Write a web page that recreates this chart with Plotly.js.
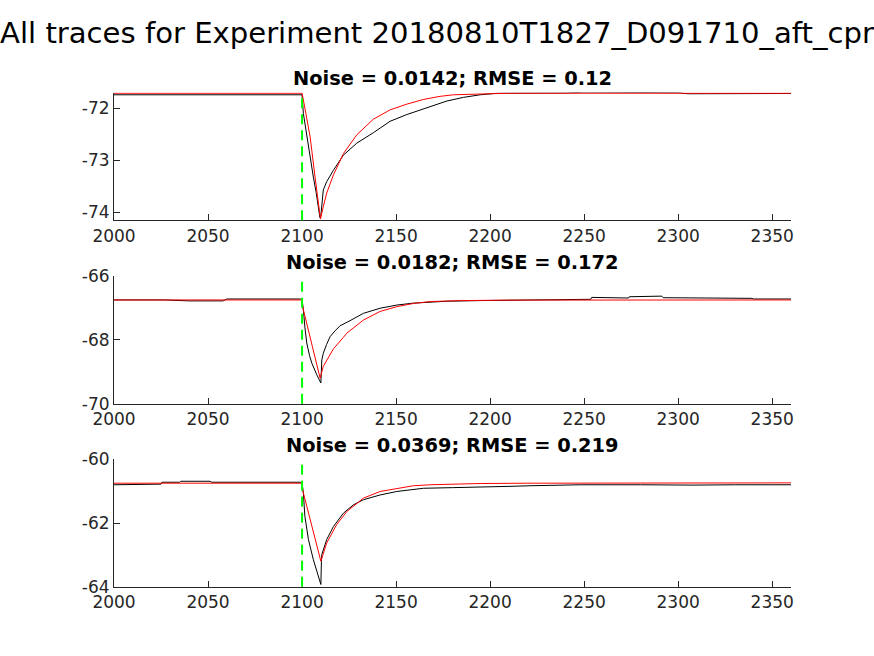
<!DOCTYPE html>
<html>
<head>
<meta charset="utf-8">
<script src="https://cdn.plot.ly/plotly-3.0.1.min.js"></script>
<style>html,body{margin:0;padding:0;background:#fff;}#chart{width:874px;height:656px;}</style>
</head>
<body>
<div id="chart"></div>
<script>
// ---------- data ----------
const figTitle = "All traces for Experiment 20180810T1827_D091710_aft_cpr";
const panelTitles = [
  "Noise = 0.0142; RMSE = 0.12",
  "Noise = 0.0182; RMSE = 0.172",
  "Noise = 0.0369; RMSE = 0.219"
];
const stimOnset = 2100;
const xTicks = [2000, 2050, 2100, 2150, 2200, 2250, 2300, 2350];
const xTickText = ["2000", "2050", "2100", "2150", "2200", "2250", "2300", "2350"];
const xRange = [2000, 2360];

const y1Ticks = [-74, -73, -72];
const y1TickText = ["-74", "-73", "-72"];
const y1Range = [-74.154, -71.696];
const y2Ticks = [-70, -68, -66];
const y2TickText = ["-70", "-68", "-66"];
const y2Range = [-70, -66];
const y3Ticks = [-64, -62, -60];
const y3TickText = ["-64", "-62", "-60"];
const y3Range = [-64, -60];

// panel 1
const p1BlackX = [2000, 2010, 2012, 2020, 2030, 2040, 2050, 2060, 2070, 2080, 2090, 2099, 2100,
  2100.7, 2102, 2103.4, 2105, 2106, 2107.5, 2108.7, 2109.5, 2110, 2110.5, 2111.3, 2113.1, 2116.7,
  2122, 2129.1, 2137.9, 2146.8, 2155.7, 2164.5, 2173.4, 2177, 2185.8, 2194.7, 2203.6, 2215, 2230,
  2240, 2250, 2260, 2272, 2275, 2290, 2297, 2300, 2305, 2320, 2325, 2340, 2345, 2360];
const p1BlackY = [-71.74, -71.74, -71.73, -71.735, -71.74, -71.735, -71.74, -71.735, -71.73, -71.735, -71.73, -71.73, -71.74,
  -72.10, -72.42, -72.74, -73.10, -73.32, -73.62, -73.89, -74.10, -74.06, -73.80, -73.57, -73.41, -73.19,
  -72.90, -72.67, -72.47, -72.25, -72.12, -72.01, -71.91, -71.86, -71.79, -71.74, -71.71, -71.71, -71.70,
  -71.705, -71.69, -71.69, -71.69, -71.70, -71.69, -71.69, -71.70, -71.72, -71.72, -71.715, -71.72, -71.725, -71.715];
const p1RedX = [2000, 2100, 2100.7, 2104.3, 2106.9, 2108.7, 2109.8, 2111.3, 2113.1, 2116.7, 2122, 2129.1,
  2137.9, 2146.8, 2155.7, 2164.5, 2173.4, 2180.5, 2194.7, 2210, 2360];
const p1RedY = [-71.71, -71.71, -71.84, -72.55, -73.32, -73.83, -74.13, -73.89, -73.63, -73.28, -72.87, -72.51,
  -72.21, -72.03, -71.92, -71.83, -71.77, -71.74, -71.72, -71.71, -71.71];

// panel 2
const p2BlackX = [2000, 2020, 2022, 2027, 2040, 2058, 2060, 2072, 2073, 2074, 2085, 2090, 2099, 2100,
  2100.7, 2101.5, 2102.5, 2104, 2105.2, 2107.8, 2110, 2110.5, 2111.3, 2113, 2114.9, 2117.5, 2120.2,
  2125.5, 2132.6, 2141.5, 2150.4, 2159.2, 2168.1, 2177, 2194.7, 2210, 2225, 2240, 2253.5, 2254, 2263.8,
  2264, 2273.6, 2274, 2282.4, 2283, 2291.3, 2292, 2304.6, 2305, 2320.6, 2321, 2339.2, 2340, 2360];
const p2BlackY = [-66.75, -66.75, -66.76, -66.75, -66.78, -66.78, -66.72, -66.72, -66.74, -66.72, -66.73, -66.72, -66.72, -66.75,
  -67.06, -67.60, -68.10, -68.50, -68.73, -69.09, -69.35, -68.63, -68.42, -68.15, -67.90, -67.72, -67.56,
  -67.40, -67.17, -67.01, -66.91, -66.85, -66.82, -66.79, -66.77, -66.76, -66.75, -66.73, -66.73, -66.67, -66.67,
  -66.69, -66.69, -66.65, -66.65, -66.63, -66.63, -66.68, -66.68, -66.69, -66.69, -66.70, -66.70, -66.72, -66.72];
const p2RedX = [2000, 2100, 2100.5, 2109.6, 2111.3, 2116.7, 2122, 2123.8, 2132.6, 2141.5, 2150.4,
  2159.2, 2168.1, 2185, 2210, 2360];
const p2RedY = [-66.75, -66.75, -67.01, -69.20, -68.83, -68.28, -67.92, -67.79, -67.38, -67.11, -66.96,
  -66.86, -66.80, -66.77, -66.755, -66.75];

// panel 3
const p3BlackX = [2000, 2018, 2019, 2025, 2025.5, 2035, 2035.5, 2043, 2044, 2046, 2051, 2052, 2065, 2066,
  2078, 2080, 2086, 2087, 2099, 2100, 2100.7, 2101.5, 2103.4, 2106, 2108.7, 2110, 2110.3, 2110.5, 2113.1,
  2116.7, 2122, 2127.3, 2132.6, 2141.5, 2150.4, 2159.2, 2164.6, 2180, 2194.7, 2210, 2221.3, 2247.9, 2280,
  2300, 2305, 2306, 2308, 2330, 2345, 2360];
const p3BlackY = [-60.80, -60.80, -60.78, -60.78, -60.72, -60.72, -60.69, -60.69, -60.67, -60.69, -60.69, -60.72, -60.72, -60.71,
  -60.72, -60.70, -60.71, -60.72, -60.72, -60.75, -61.06, -61.79, -62.52, -63.15, -63.67, -63.93, -63.20, -62.99, -62.52,
  -62.11, -61.69, -61.43, -61.27, -61.12, -61.01, -60.94, -60.91, -60.89, -60.88, -60.85, -60.83, -60.80, -60.80,
  -60.81, -60.82, -60.83, -60.81, -60.80, -60.81, -60.80];
const p3RedX = [2000, 2100, 2100.5, 2110, 2113.1, 2118.4, 2123.8, 2132.6, 2141.5, 2150.4, 2159.2, 2168.1,
  2194.7, 2220, 2360];
const p3RedY = [-60.75, -60.75, -61.01, -63.20, -62.63, -62.05, -61.64, -61.22, -61.01, -60.91, -60.83, -60.80,
  -60.76, -60.75, -60.74];

// ---------- chart ----------
const W = 874, H = 656;
const FONT = "DejaVu Sans, Liberation Sans, sans-serif";
const AX = "#262626";
const px = v => v / W;
const py = v => 1 - v / H;

const xDom = [px(114), px(791)];
const yDoms = [[py(220.3), py(92.5)], [py(403.7), py(276)], [py(586.7), py(459.3)]];
const titleY = [78.3, 262.2, 445.5];

function line(x, y, color, xa, ya) {
  return {x: x, y: y, type: "scatter", mode: "lines", xaxis: xa, yaxis: ya,
    line: {color: color, width: 1}, hoverinfo: "skip", showlegend: false};
}

const data = [
  line(p1BlackX, p1BlackY, "#000000", "x", "y"),
  line(p1RedX, p1RedY, "#ff0000", "x", "y"),
  line(p2BlackX, p2BlackY, "#000000", "x2", "y2"),
  line(p2RedX, p2RedY, "#ff0000", "x2", "y2"),
  line(p3BlackX, p3BlackY, "#000000", "x3", "y3"),
  line(p3RedX, p3RedY, "#ff0000", "x3", "y3")
];

function xAxis(anchor) {
  return {domain: xDom, anchor: anchor, range: xRange, tickvals: xTicks, ticktext: xTickText,
    showgrid: false, zeroline: false, showline: true, linecolor: AX, linewidth: 1,
    ticks: "inside", ticklen: 6, tickwidth: 1, tickcolor: AX,
    tickfont: {family: FONT, size: 17, color: AX}, fixedrange: true};
}
function yAxis(anchor, dom, range, tv, tt) {
  return {domain: dom, anchor: anchor, range: range, tickvals: tv, ticktext: tt,
    showgrid: false, zeroline: false, showline: true, linecolor: AX, linewidth: 1,
    ticks: "inside", ticklen: 6, tickwidth: 1, tickcolor: AX,
    tickfont: {family: FONT, size: 17, color: AX}, fixedrange: true};
}

const shapes = ["x", "x2", "x3"].map((xa, i) => ({
  type: "line", xref: xa, yref: (i === 0 ? "y" : "y" + (i + 1)) + " domain",
  x0: stimOnset, x1: stimOnset, y0: 0, y1: 1, layer: "above",
  line: {color: "#00ff00", width: 2, dash: "10px,6px"}
}));

const annotations = panelTitles.map((t, i) => ({
  text: "<b>" + t + "</b>", xref: "paper", yref: "paper",
  x: (xDom[0] + xDom[1]) / 2, y: py(titleY[i]), xanchor: "center", yanchor: "middle",
  showarrow: false, font: {family: FONT, size: 19.4, color: "#000000"}
}));

const layout = {
  width: W, height: H,
  margin: {l: 0, r: 0, t: 0, b: 0, pad: 0},
  paper_bgcolor: "#ffffff", plot_bgcolor: "#ffffff",
  title: {text: figTitle, x: 0.5, xanchor: "center", xref: "paper", y: py(33), yanchor: "middle", yref: "paper",
    font: {family: FONT, size: 29.1, color: "#000000"}},
  showlegend: false,
  xaxis: xAxis("y"), xaxis2: xAxis("y2"), xaxis3: xAxis("y3"),
  yaxis: yAxis("x", yDoms[0], y1Range, y1Ticks, y1TickText),
  yaxis2: yAxis("x2", yDoms[1], y2Range, y2Ticks, y2TickText),
  yaxis3: yAxis("x3", yDoms[2], y3Range, y3Ticks, y3TickText),
  shapes: shapes,
  annotations: annotations
};

Plotly.newPlot("chart", data, layout, {displayModeBar: false, staticPlot: true});
</script>
</body>
</html>
